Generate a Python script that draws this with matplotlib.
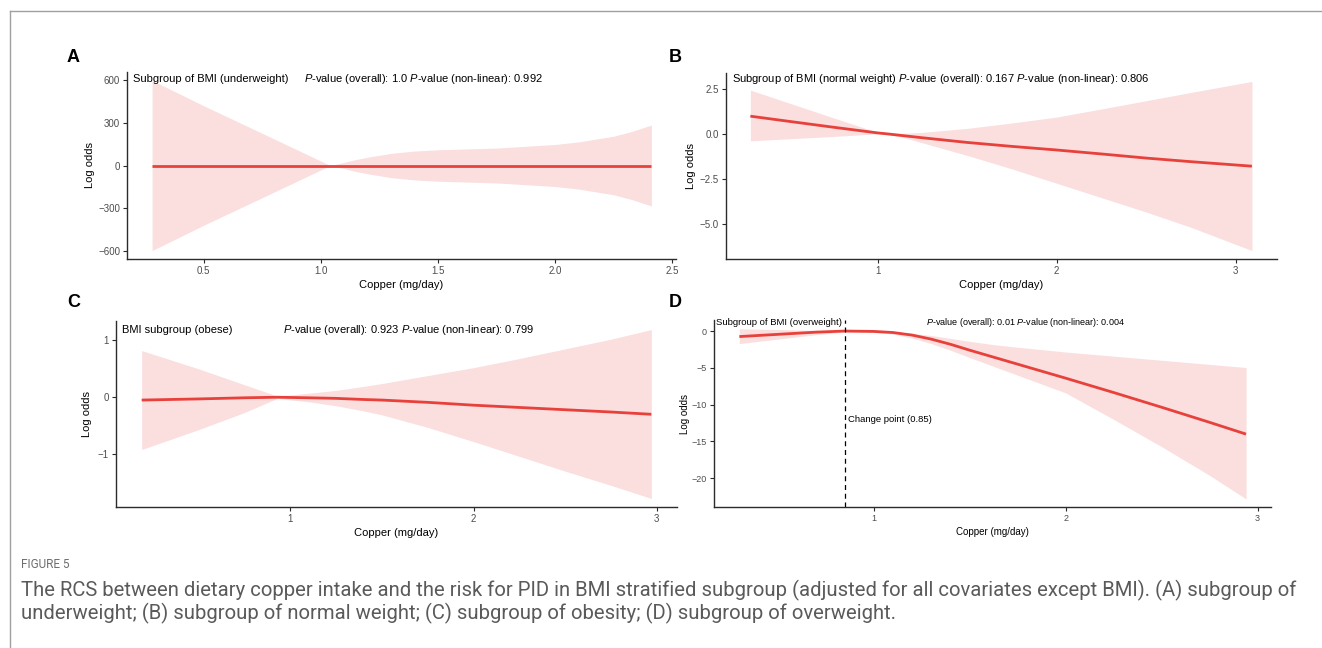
import matplotlib
matplotlib.use("Agg")
import matplotlib.pyplot as plt
from matplotlib.lines import Line2D

plt.rcParams['font.family'] = ['Liberation Sans', 'DejaVu Sans']
plt.rcParams['mathtext.fontset'] = 'custom'
plt.rcParams['mathtext.rm'] = 'Liberation Sans'
plt.rcParams['mathtext.it'] = 'Liberation Sans:italic'

# ---------------- data ----------------
# Panel A: underweight
a_x = [0.28, 0.5, 0.75, 1.04, 1.1, 1.15, 1.2, 1.3, 1.4, 1.5, 1.75, 2.0, 2.1, 2.25, 2.33, 2.41]
a_line = [0, 0, 0, 0, 0, 0, 0, 0, 0, 0, 0, 0, 0, 0, 0, 0]
a_upper = [595, 418, 225, 0, 22, 42, 58, 85, 101, 110, 122, 147, 165, 205, 240, 283]
a_lower = [-595, -418, -225, 0, -22, -42, -58, -85, -101, -110, -122, -147, -165, -205, -240, -283]

# Panel B: normal weight
b_x = [0.29, 0.5, 0.75, 1.0, 1.05, 1.15, 1.25, 1.5, 1.75, 2.0, 2.25, 2.5, 2.75, 3.09]
b_line = [0.98, 0.70, 0.37, 0.05, 0.0, -0.11, -0.22, -0.48, -0.70, -0.90, -1.12, -1.35, -1.55, -1.80]
b_upper = [2.43, 1.73, 0.90, 0.08, 0.02, 0.03, 0.08, 0.30, 0.60, 0.93, 1.38, 1.84, 2.30, 2.91]
b_lower = [-0.39, -0.28, -0.15, 0.0, -0.02, -0.22, -0.50, -1.20, -1.95, -2.75, -3.55, -4.35, -5.20, -6.49]

# Panel C: obese
c_x = [0.19, 0.5, 0.75, 0.93, 1.1, 1.25, 1.4, 1.5, 1.75, 2.0, 2.25, 2.5, 2.75, 2.97]
c_line = [-0.05, -0.03, -0.01, 0.0, -0.01, -0.02, -0.04, -0.05, -0.09, -0.14, -0.18, -0.22, -0.26, -0.30]
c_upper = [0.82, 0.50, 0.22, 0.02, 0.07, 0.12, 0.19, 0.24, 0.38, 0.52, 0.68, 0.85, 1.02, 1.19]
c_lower = [-0.92, -0.57, -0.27, -0.02, -0.08, -0.15, -0.24, -0.31, -0.53, -0.78, -1.04, -1.30, -1.55, -1.78]

# Panel D: overweight
d_x = [0.30, 0.5, 0.7, 0.85, 1.0, 1.1, 1.2, 1.3, 1.4, 1.5, 1.625, 1.75, 2.0, 2.25, 2.5, 2.75, 2.94]
d_line = [-0.75, -0.45, -0.15, 0.0, -0.05, -0.2, -0.55, -1.1, -1.8, -2.6, -3.55, -4.5,
          -6.4, -8.35, -10.35, -12.4, -14.0]
d_upper = [0.30, 0.20, 0.10, 0.08, 0.0, -0.1, -0.3, -0.6, -1.0, -1.4, -1.85, -2.2,
           -2.85, -3.41, -3.97, -4.53, -4.95]
d_lower = [-1.7, -1.1, -0.5, -0.12, -0.2, -0.4, -0.95, -1.7, -2.6, -3.6, -4.8, -6.0,
           -8.4, -12.0, -15.7, -19.6, -22.8]
d_change = 0.85

a_yticks = [-600, -300, 0, 300, 600]
a_xticks = [0.5, 1.0, 1.5, 2.0, 2.5]
b_yticks = [-5.0, -2.5, 0.0, 2.5]
b_xticks = [1, 2, 3]
c_yticks = [-1, 0, 1]
c_xticks = [1, 2, 3]
d_yticks = [-20, -15, -10, -5, 0]
d_xticks = [1, 2, 3]

# ---------------- style ----------------
W, H = 1322, 648
LINE = "#E8413C"
FILL = "#FADFDE"
TICKC = "#4D4D4D"
AXC = "#2b2b2b"

fig = plt.figure(figsize=(W / 100, H / 100), dpi=100)


def add_ax(l, r, t, b):
    return fig.add_axes([l / W, 1 - b / H, (r - l) / W, (b - t) / H])


def style(ax, xt, yt, xl, yl, xfmt, yfmt, fs_tick=7, fs_lab=8, ypad=3):
    for s in ['top', 'right']:
        ax.spines[s].set_visible(False)
    for s in ['left', 'bottom']:
        ax.spines[s].set_color(AXC)
        ax.spines[s].set_linewidth(1.0)
    ax.set_xticks(xt)
    ax.set_xticklabels([xfmt(v) for v in xt])
    ax.set_yticks(yt)
    ax.set_yticklabels([yfmt(v).replace('-', '\u2212') for v in yt])
    ax.tick_params(axis='both', length=3, width=0.8, color=AXC,
                   labelsize=fs_tick, labelcolor=TICKC, pad=2)
    ax.set_xlim(*xl)
    ax.set_ylim(*yl)
    ax.set_xlabel("Copper (mg/day)", fontsize=fs_lab, labelpad=3)
    ax.set_ylabel("Log odds", fontsize=fs_lab, labelpad=ypad)


def draw(ax, x, line, lo, up):
    ax.fill_between(x, lo, up, color=FILL, linewidth=0, zorder=1)
    ax.plot(x, line, color=LINE, linewidth=2.0, zorder=3, solid_capstyle='butt',
            solid_joinstyle='round')


# Panel A
axA = add_ax(127, 676, 72, 259)
draw(axA, a_x, a_line, a_lower, a_upper)
style(axA, a_xticks, a_yticks, (0.173, 2.515), (-654, 654),
      lambda v: f"{v:.1f}", lambda v: f"{v:d}", ypad=2)
axA.text(0.20, 605, "Subgroup of BMI (underweight)", fontsize=8, va='center', ha='left')
axA.text(0.93, 605, r"$\mathit{P}$-value (overall): 1.0 $\mathit{P}$-value (non-linear): 0.992",
         fontsize=8, va='center', ha='left')

# Panel B
axB = add_ax(726, 1277, 73, 259)
draw(axB, b_x, b_line, b_lower, b_upper)
style(axB, b_xticks, b_yticks, (0.154, 3.23), (-6.96, 3.38),
      lambda v: f"{v:d}", lambda v: f"{v:.1f}", ypad=3)
axB.text(0.189, 3.02,
         r"Subgroup of BMI (normal weight) $\mathit{P}$-value (overall): 0.167 $\mathit{P}$-value (non-linear): 0.806",
         fontsize=8, va='center', ha='left')

# Panel C
axC = add_ax(116, 677, 321, 507)
draw(axC, c_x, c_line, c_lower, c_upper)
style(axC, c_xticks, c_yticks, (0.05, 3.11), (-1.93, 1.34),
      lambda v: f"{v:d}", lambda v: f"{v:d}", ypad=4)
axC.text(0.082, 1.18, "BMI subgroup (obese)", fontsize=8, va='center', ha='left')
axC.text(0.962, 1.18, r"$\mathit{P}$-value (overall): 0.923 $\mathit{P}$-value (non-linear): 0.799",
         fontsize=8, va='center', ha='left')

# Panel D
axD = add_ax(714, 1271, 320, 507)
draw(axD, d_x, d_line, d_lower, d_upper)
style(axD, d_xticks, d_yticks, (0.168, 3.07), (-23.9, 1.5),
      lambda v: f"{v:d}", lambda v: f"{v:d}", fs_tick=6.5, fs_lab=7, ypad=1)
axD.axvline(d_change, color='black', linestyle=(0, (4, 3)), linewidth=0.9, zorder=4)
axD.text(0.18, 1.1, "Subgroup of BMI (overweight)", fontsize=6.8, va='center', ha='left')
axD.text(1.275, 1.1, r"$\mathit{P}$-value (overall): 0.01 $\mathit{P}$-value (non-linear): 0.004",
         fontsize=6.5, va='center', ha='left')
axD.text(0.868, -11.96, "Change point (0.85)", fontsize=6.8, va='center', ha='left')

# Panel letters
for lab, x, y in [("A", 67, 57), ("B", 669, 58), ("C", 67, 302), ("D", 669, 302)]:
    fig.text(x / W, 1 - y / H, lab, fontsize=13, fontweight='bold', ha='left', va='center')

# Frame lines
fig.add_artist(Line2D([10 / W, 1], [1 - 11 / H, 1 - 11 / H], color="#a0a0a0", linewidth=1.0))
fig.add_artist(Line2D([10 / W, 10 / W], [0, 1 - 11 / H], color="#a0a0a0", linewidth=1.0))

# Caption
fig.text(21 / W, 1 - 565 / H, "FIGURE 5", fontsize=8.5, color="#6e6e6e",
         family=['Roboto', 'DejaVu Sans'], ha='left', va='center')
cap1 = ("The RCS between dietary copper intake and the risk for PID in BMI stratified subgroup "
        "(adjusted for all covariates except BMI). (A) subgroup of")
cap2 = "underweight; (B) subgroup of normal weight; (C) subgroup of obesity; (D) subgroup of overweight."
t1 = fig.text(21 / W, 1 - 590 / H, cap1, fontsize=13, color="#5a5a5a",
              family=['Roboto', 'DejaVu Sans'], ha='left', va='center')
t2 = fig.text(21 / W, 1 - 613 / H, cap2, fontsize=13, color="#5a5a5a",
              family=['Roboto', 'DejaVu Sans'], ha='left', va='center')
r = fig.canvas.get_renderer()
wpx = t1.get_window_extent(renderer=r).width
fs = 13 * 1272 / wpx
t1.set_fontsize(fs)
t2.set_fontsize(fs)

fig.savefig("out.png", dpi=100)
